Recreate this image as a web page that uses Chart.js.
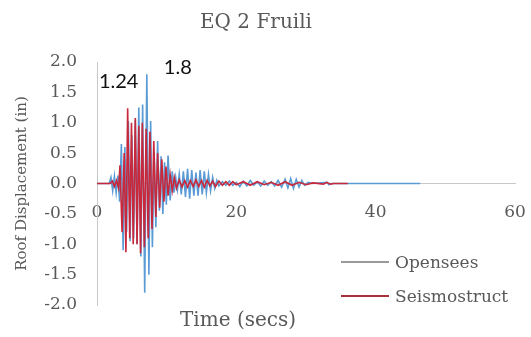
<!DOCTYPE html>
<html>
<head>
<meta charset="utf-8">
<script src="https://cdn.jsdelivr.net/npm/chart.js@4"></script>
<style>
  body { margin: 0; background: #fff; }
  #cadre { position: relative; width: 531px; height: 337px; }
  .texte { position: absolute; font-family: "DejaVu Serif", serif; color: #595959; white-space: nowrap; }
  .leg { position: absolute; left: 341px; font: 17px "DejaVu Serif", serif; color: #595959; display: flex; align-items: center; height: 20px; }
  .leg .trait { display: inline-block; width: 48px; height: 1.5px; margin-right: 6px; }
</style>
</head>
<body>
<div id="cadre">
  <canvas id="graphe" width="531" height="337"></canvas>
  <div class="texte" style="left:0;width:512px;text-align:center;top:9px;font-size:20px">EQ 2 Fruili</div>
  <div class="texte" style="left:180px;top:307px;font-size:20px">Time (secs)</div>
  <div class="leg" style="top:252px"><span class="trait" style="background:#9a9a9a"></span>Opensees</div>
  <div class="leg" style="top:286px"><span class="trait" style="background:#a8303c"></span>Seismostruct</div>
</div>
<script>
// Temps (s) et déplacement du toit (in) - Opensees
const opsTime = [0, 1.75, 2.0, 2.25, 2.5, 2.75, 3.0, 3.25, 3.5, 3.75, 4.0, 4.25, 4.5, 4.75, 5.0, 5.25, 5.5, 5.75, 6.0, 6.3, 6.55, 6.85, 7.15, 7.45, 7.7, 7.95, 8.2, 8.45, 8.7, 8.95, 9.2, 9.45, 9.7, 9.95, 10.2, 10.5, 10.8, 11.05, 11.3, 11.55, 11.8, 12.1, 12.4, 12.7, 13.0, 13.3, 13.6, 13.9, 14.2, 14.5, 14.8, 15.1, 15.4, 15.7, 16.0, 16.3, 16.6, 16.9, 17.2, 17.5, 18.0, 18.5, 19.0, 19.5, 20.0, 20.5, 21.0, 21.5, 22.0, 22.5, 23.0, 23.5, 24.0, 24.5, 25.0, 25.5, 26.0, 26.5, 27.0, 27.4, 27.8, 28.2, 28.6, 29.0, 29.4, 29.8, 30.3, 31.0, 33.0, 33.3, 33.6, 46.4];
const opsDisp = [0, 0, 0.1, -0.12, 0.12, -0.15, 0.13, -0.3, 0.65, -1.1, 0.6, -0.8, 1.03, -0.95, 0.8, -0.9, 1.05, -1.0, 1.25, -1.2, 1.3, -1.8, 1.8, -1.5, 1.03, -1.05, 0.5, -0.72, 0.7, -0.45, 0.45, -0.5, 0.35, -0.35, 0.46, -0.28, 0.2, -0.15, 0.1, -0.1, 0.15, -0.18, 0.2, -0.22, 0.24, -0.25, 0.22, -0.2, 0.18, -0.2, 0.22, -0.18, 0.2, -0.15, 0.15, -0.12, 0.1, -0.08, 0.05, -0.04, 0.03, -0.03, 0.04, -0.03, 0.02, -0.05, 0.04, -0.04, 0.05, -0.03, 0.03, -0.04, 0.04, -0.03, 0.03, -0.04, 0.05, -0.06, 0.07, -0.07, 0.08, -0.08, 0.07, -0.06, 0.05, -0.03, 0.02, 0, 0.02, -0.02, 0, 0];

// Temps (s) et déplacement du toit (in) - Seismostruct
const seisTime = [0, 1.9, 2.2, 2.5, 2.8, 3.1, 3.3, 3.6, 3.9, 4.15, 4.4, 4.7, 4.95, 5.2, 5.5, 5.75, 6.0, 6.25, 6.5, 6.8, 7.05, 7.35, 7.6, 7.9, 8.15, 8.45, 8.7, 9.0, 9.3, 9.6, 9.9, 10.2, 10.5, 10.8, 11.1, 11.4, 11.8, 12.2, 12.6, 13.0, 13.4, 13.8, 14.2, 14.6, 15.0, 15.4, 15.8, 16.2, 16.6, 17.0, 17.5, 18.0, 18.5, 19.0, 19.5, 20.0, 21.0, 22.0, 23.0, 24.0, 25.0, 26.0, 27.0, 28.0, 29.0, 30.0, 31.0, 32.5, 33.0, 33.5, 34.0, 36.0];
const seisDisp = [0, 0, 0.04, -0.05, 0.05, -0.08, 0.3, -0.8, 0.5, -1.13, 1.24, -0.9, 1.0, -1.0, 1.08, -1.0, 0.95, -1.15, 1.0, -1.05, 0.9, -0.9, 0.85, -0.75, 0.7, -0.55, 0.5, -0.4, 0.4, -0.3, 0.28, -0.2, 0.15, -0.12, 0.1, -0.08, 0.06, -0.06, 0.05, -0.06, 0.05, -0.05, 0.06, -0.05, 0.05, -0.06, 0.05, -0.04, 0.04, -0.05, 0.04, -0.03, 0.03, -0.03, 0.03, -0.02, 0.03, -0.03, 0.03, -0.02, 0.02, -0.03, 0.03, -0.03, 0.02, -0.02, 0.01, -0.01, 0.02, -0.01, 0, 0];

const seriesNames = ['Opensees', 'Seismostruct'];
const xTicks = [0, 20, 40, 60];
const yTicks = [-2.0, -1.5, -1.0, -0.5, 0.0, 0.5, 1.0, 1.5, 2.0];

const serif = '"DejaVu Serif", serif';
const gris = '#595959';

// Fonction pour construire les points x/y
function points(temps, valeurs) {
  return temps.map((t, i) => ({ x: t, y: valeurs[i] }));
}

// Décalage des étiquettes de pic (px) : Opensees, Seismostruct
const decalages = [[31, -7], [-9, -27]];

// Plugin pour écrire la valeur maxi de chaque série
const etiquettesPics = {
  id: 'etiquettesPics',
  afterDatasetsDraw(chart) {
    const ctx = chart.ctx;
    const sx = chart.scales.x, sy = chart.scales.y;
    ctx.save();
    ctx.font = '20px Lato';
    ctx.fillStyle = '#111';
    ctx.textAlign = 'center';
    ctx.textBaseline = 'middle';
    chart.data.datasets.forEach((ds, k) => {
      let pic = ds.data[0];
      ds.data.forEach(p => { if (p.y > pic.y) pic = p; });
      const px = sx.getPixelForValue(pic.x) + decalages[k][0];
      const py = sy.getPixelForValue(pic.y) + decalages[k][1];
      ctx.fillText(String(pic.y), px, py);
    });
    ctx.restore();
  }
};

new Chart(document.getElementById('graphe'), {
  type: 'line',
  data: {
    datasets: [{
      label: seriesNames[0],
      data: points(opsTime, opsDisp),
      borderColor: '#5b9bd5',
      borderWidth: 1.6,
      pointRadius: 0,
      tension: 0,
      order: 2
    }, {
      label: seriesNames[1],
      data: points(seisTime, seisDisp),
      borderColor: '#c8283c',
      borderWidth: 1.6,
      pointRadius: 0,
      tension: 0,
      order: 1
    }]
  },
  options: {
    responsive: false,
    animation: false,
    layout: { padding: { left: 0, right: 16, top: 62, bottom: 32 } },
    plugins: {
      legend: { display: false },
      tooltip: { enabled: false }
    },
    scales: {
      x: {
        type: 'linear',
        position: { y: 0 },
        min: 0,
        max: 60,
        // l'axe est posé sur y = 0, il ne doit pas prendre de place
        afterFit: s => { s.height = 0; s.paddingLeft = 0; s.paddingRight = 0; },
        afterBuildTicks: s => { s.ticks = xTicks.map(v => ({ value: v })); },
        grid: { display: false, drawTicks: false },
        border: { display: true, color: '#c8c8c8', width: 1 },
        ticks: { color: gris, font: { family: serif, size: 17 }, padding: 19, maxRotation: 0 }
      },
      y: {
        min: -2,
        max: 2,
        afterFit: s => { s.width = 97; },
        afterBuildTicks: s => { s.ticks = yTicks.map(v => ({ value: v })); },
        grid: { display: false, drawTicks: false },
        border: { display: true, color: '#c8c8c8', width: 1 },
        ticks: { color: gris, font: { family: serif, size: 17 }, padding: 20, callback: v => v.toFixed(1) },
        title: {
          display: true,
          text: 'Roof Displacement (in)',
          color: gris,
          font: { family: serif, size: 15 },
          padding: { top: 13, bottom: 0 }
        }
      }
    }
  },
  plugins: [etiquettesPics]
});
</script>
</body>
</html>
